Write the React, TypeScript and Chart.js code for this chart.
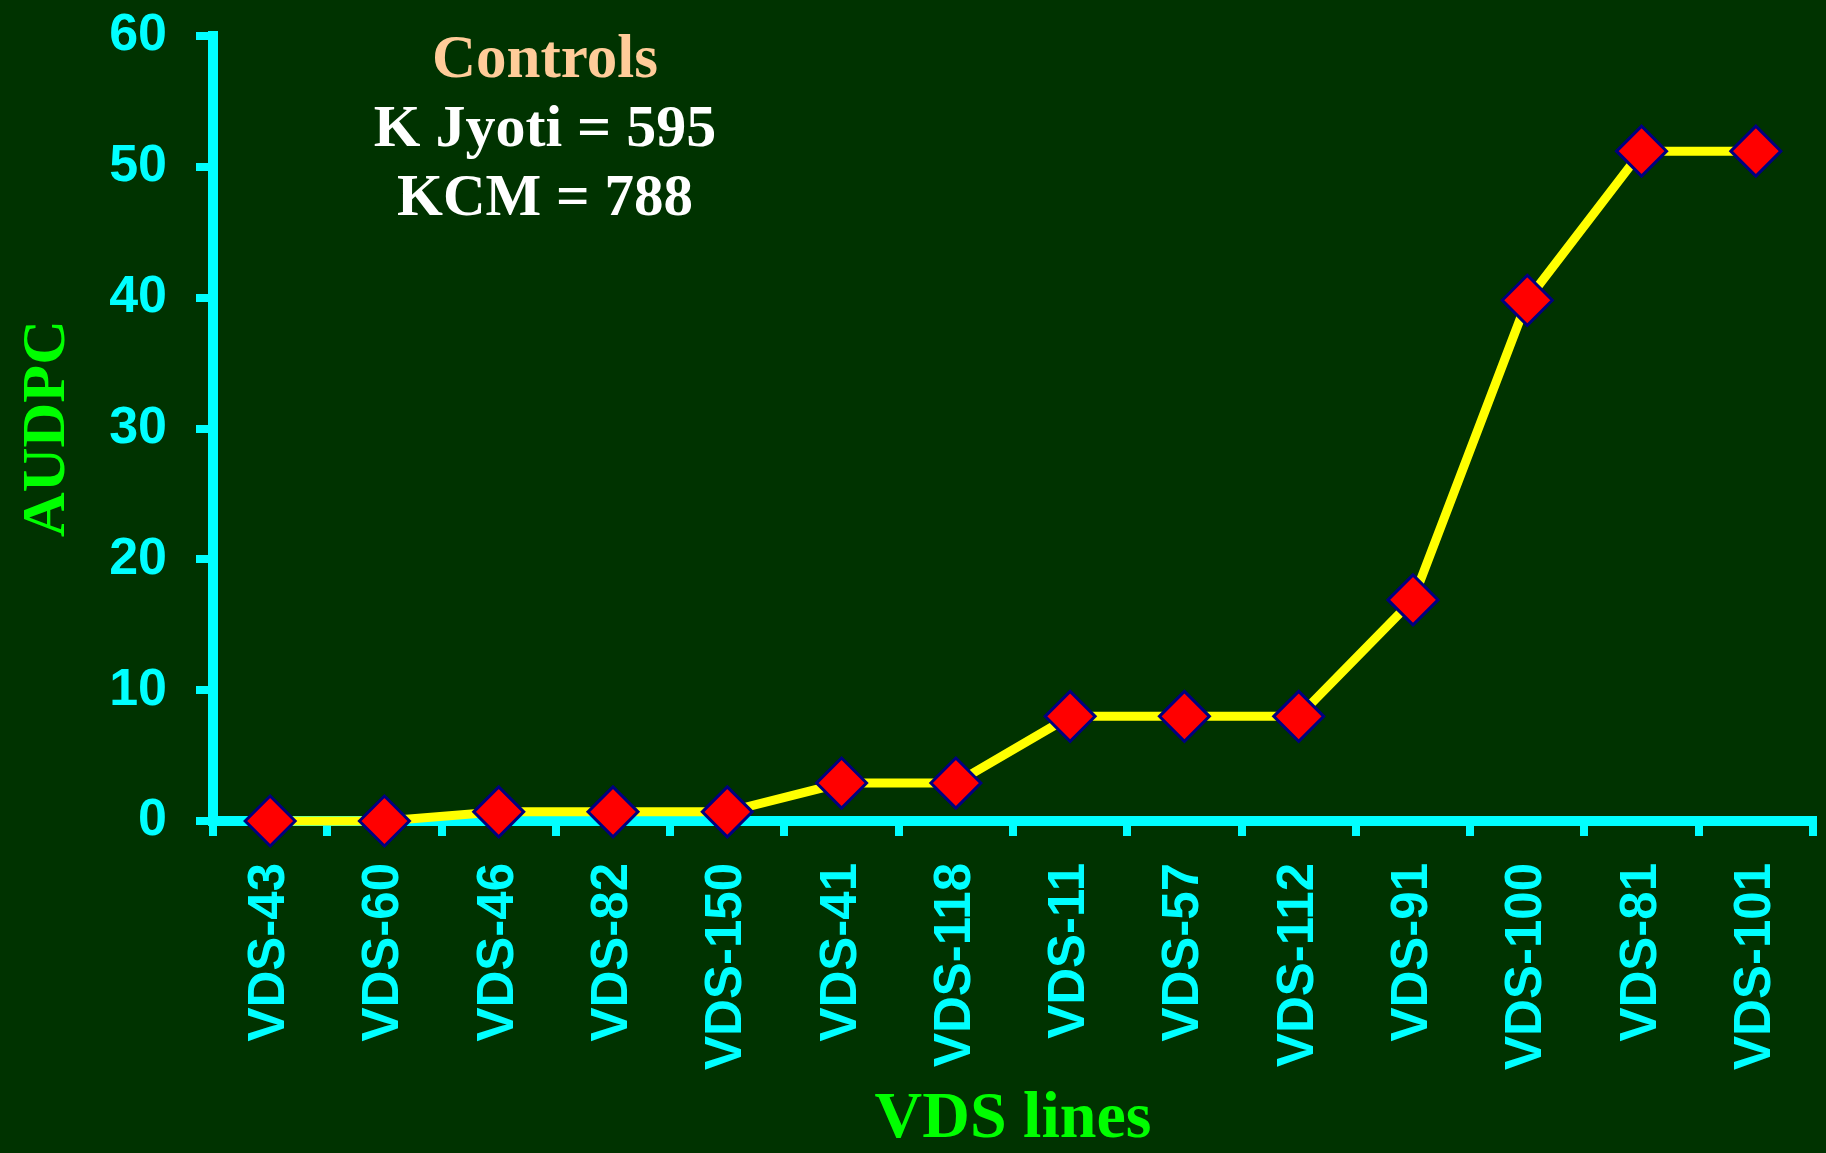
import React, { useEffect, useRef } from "react";
import { Chart, registerables } from "chart.js";

Chart.register(...registerables);

const categories = [
  "VDS-43", "VDS-60", "VDS-46", "VDS-82", "VDS-150", "VDS-41", "VDS-118",
  "VDS-11", "VDS-57", "VDS-112", "VDS-91", "VDS-100", "VDS-81", "VDS-101",
];
const audpc = [0, 0, 0.7, 0.7, 0.7, 2.9, 2.9, 8, 8, 8, 16.9, 39.8, 51.2, 51.2];
const yTicks = [0, 10, 20, 30, 40, 50, 60];
const controlTitle = "Controls";
const controlLines = ["K Jyoti = 595", "KCM = 788"];

const BG = "#003300";
const CYAN = "#00FFFF";
const GREEN = "#00FF00";
const SERIF = '"Liberation Serif", "Times New Roman", serif';
const SANS = '"Liberation Sans", Arial, sans-serif';

const backgroundPlugin = {
  id: "bgFill",
  beforeDraw(chart: any) {
    const { ctx, width, height } = chart;
    ctx.save();
    ctx.fillStyle = BG;
    ctx.fillRect(0, 0, width, height);
    ctx.restore();
  },
};

const controlsPlugin = {
  id: "controlsText",
  afterDraw(chart: any) {
    const ctx = chart.ctx;
    const cx = 545;
    ctx.save();
    ctx.textAlign = "center";
    ctx.textBaseline = "alphabetic";
    ctx.font = `bold 61px ${SERIF}`;
    ctx.fillStyle = "#FFCC99";
    ctx.fillText(controlTitle, cx, 77);
    ctx.fillStyle = "#FFFFFF";
    ctx.font = `bold 60px ${SERIF}`;
    ctx.fillText(controlLines[0], cx, 146);
    ctx.font = `bold 59px ${SERIF}`;
    ctx.fillText(controlLines[1], cx, 215);
    ctx.restore();
  },
};

const zeroPadding = (s: any) => {
  s.paddingTop = 0;
  s.paddingBottom = 0;
  s.paddingLeft = 0;
  s.paddingRight = 0;
};

export default function App() {
  const canvasRef = useRef<HTMLCanvasElement | null>(null);

  useEffect(() => {
    document.body.style.margin = "0";
    document.body.style.background = BG;
    const canvas = canvasRef.current;
    if (!canvas) return;
    const chart = new Chart(canvas, {
      type: "line",
      data: {
        labels: categories,
        datasets: [
          {
            data: audpc,
            borderColor: "#FFFF00",
            borderWidth: 9,
            tension: 0,
            pointStyle: "rectRot",
            pointRadius: 25,
            pointHoverRadius: 25,
            pointBackgroundColor: "#FF0000",
            pointBorderColor: "#000080",
            pointBorderWidth: 3,
            clip: false as any,
          },
        ],
      },
      options: {
        animation: false,
        responsive: false,
        layout: { autoPadding: false, padding: { top: 36, right: 13, left: 0, bottom: 0 } },
        plugins: {
          legend: { display: false },
          tooltip: { enabled: false },
        },
        scales: {
          x: {
            type: "category",
            offset: true,
            grid: {
              offset: true,
              drawOnChartArea: false,
              drawTicks: true,
              tickLength: 15,
              tickColor: CYAN,
              lineWidth: 8,
            },
            border: { display: true, color: CYAN, width: 10 },
            ticks: {
              color: CYAN,
              font: { family: SANS, size: 51, weight: "bold" },
              minRotation: 90,
              maxRotation: 90,
              padding: 27,
              autoSkip: false,
            },
            title: {
              display: true,
              text: "VDS lines",
              color: GREEN,
              font: { family: SERIF, size: 66, weight: "bold", lineHeight: 1 },
              padding: { top: 0, bottom: 0 },
            },
            afterFit: (s: any) => {
              s.height = 332;
              zeroPadding(s);
            },
          },
          y: {
            min: 0,
            max: 60,
            grid: {
              drawOnChartArea: false,
              drawTicks: true,
              tickLength: 17,
              tickColor: CYAN,
              lineWidth: 8,
            },
            border: { display: true, color: CYAN, width: 10 },
            ticks: {
              color: CYAN,
              font: { family: SANS, size: 52, weight: "bold" },
              padding: 29,
              stepSize: 10,
            },
            afterBuildTicks: (s: any) => {
              s.ticks = yTicks.map((v) => ({ value: v }));
            },
            title: {
              display: true,
              text: "AUDPC",
              color: GREEN,
              font: { family: SERIF, size: 62, weight: "bold", lineHeight: 1 },
              padding: { top: 17, bottom: 0 },
            },
            afterFit: (s: any) => {
              s.width = 213;
              zeroPadding(s);
            },
          },
        },
      },
      plugins: [backgroundPlugin, controlsPlugin],
    });
    return () => chart.destroy();
  }, []);

  return (
    <div style={{ position: "absolute", left: 0, top: 0, width: 1826, height: 1153, background: BG }}>
      <canvas ref={canvasRef} width={1826} height={1153} style={{ display: "block" }} />
    </div>
  );
}
